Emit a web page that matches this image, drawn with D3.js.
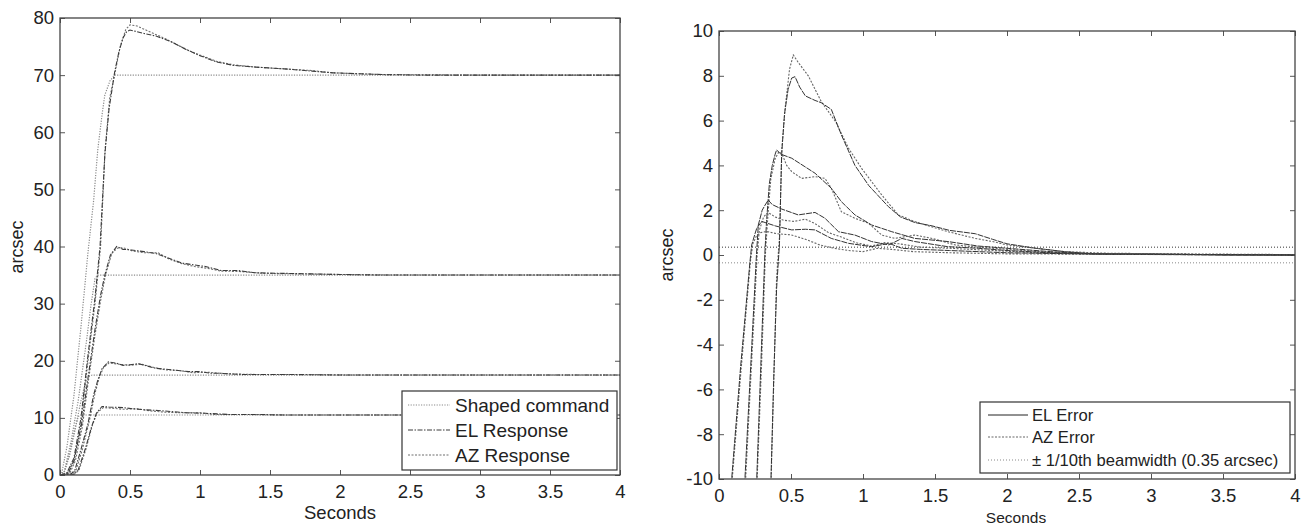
<!DOCTYPE html>
<head>
    <meta charset="utf-8">
    <title>Step responses</title>
    <script type="text/javascript" src="https://d3js.org/d3.v7.min.js"></script>
    <style>
        body { margin: 0; background: #fff; }
        svg { font-family: "Liberation Sans", Arial, sans-serif; }
        .tick text { fill: #222; font-size: 18.5px; }
        .tick line { stroke: #555; }
        .domain { display: none; }
    </style>
</head>

<body>
    <div id="container"></div>
    <script>
        //------------------------1. DATA------------------------//
        // left panel: [seconds, arcsec]
        var cmd70 = [[0, 0], [0.012, 0.3], [0.05, 5], [0.1, 14], [0.15, 26], [0.2, 39], [0.24, 48], [0.27, 57], [0.3, 63], [0.32, 66.5], [0.357, 69], [0.39, 70], [4, 70]];
        var el70 = [[0, 0], [0.05, 0.4], [0.1, 3], [0.15, 10], [0.2, 21], [0.25, 31], [0.286, 40], [0.32, 56], [0.35, 64], [0.39, 70.5], [0.42, 74], [0.45, 76.5], [0.476, 77.6], [0.5, 77.9], [0.6, 77.3], [0.69, 76.8], [0.79, 75.9], [0.9, 74.5], [1.0, 73.4], [1.12, 72.3], [1.24, 71.7], [1.4, 71.4], [1.6, 71.1], [1.8, 70.7], [1.95, 70.4], [2.3, 70.1], [2.6, 70], [4, 70]];
        var az70 = [[0, 0], [0.05, 0.3], [0.1, 2.5], [0.15, 9], [0.2, 20], [0.25, 30], [0.29, 40], [0.322, 57], [0.355, 66], [0.39, 70], [0.43, 75], [0.47, 78], [0.5, 78.8], [0.55, 78.6], [0.64, 77.6], [0.75, 76.4], [0.83, 75.4], [0.92, 74.3], [1.0, 73.5], [1.12, 72.4], [1.24, 71.8], [1.4, 71.4], [1.6, 71.1], [1.8, 70.8], [1.95, 70.4], [2.3, 70.1], [3, 70], [4, 70]];

        var cmd35 = [[0, 0], [0.03, 0.5], [0.08, 6], [0.13, 13], [0.19, 23.6], [0.22, 29.5], [0.25, 34.4], [0.27, 35], [4, 35]];
        var el35 = [[0, 0], [0.06, 0.3], [0.1, 2.5], [0.155, 9], [0.2, 17], [0.25, 25.5], [0.29, 31.5], [0.32, 35], [0.36, 38.5], [0.405, 40], [0.45, 39.5], [0.51, 39.4], [0.6, 39.1], [0.68, 38.8], [0.75, 38.2], [0.87, 37.1], [0.95, 36.8], [1.04, 36.5], [1.15, 35.8], [1.27, 35.8], [1.39, 35.4], [1.6, 35.3], [1.8, 35.2], [2.0, 35.1], [2.3, 35], [4, 35]];
        var az35 = [[0, 0], [0.07, 0.3], [0.11, 2.5], [0.16, 8.5], [0.2, 16], [0.25, 24.5], [0.29, 30.5], [0.325, 35], [0.37, 38.8], [0.41, 39.7], [0.45, 39.8], [0.52, 39.2], [0.6, 38.9], [0.7, 38.9], [0.78, 37.8], [0.87, 37.0], [0.96, 36.5], [1.05, 36.2], [1.15, 35.7], [1.3, 35.6], [1.45, 35.3], [1.7, 35.2], [2.0, 35.1], [2.4, 35], [4, 35]];

        var cmd17 = [[0, 0], [0.03, 0.5], [0.07, 3.5], [0.1, 7], [0.15, 13], [0.18, 16], [0.21, 17.3], [0.23, 17.5], [4, 17.5]];
        var el17 = [[0, 0], [0.08, 0.2], [0.107, 0.9], [0.15, 4.5], [0.2, 9], [0.24, 14], [0.27, 16.6], [0.3, 18.6], [0.345, 19.8], [0.4, 19.6], [0.45, 19.2], [0.5, 19.3], [0.56, 19.5], [0.62, 19.1], [0.68, 18.7], [0.8, 18.4], [0.92, 18.1], [1.0, 18.1], [1.08, 17.8], [1.15, 17.8], [1.3, 17.6], [1.6, 17.6], [2, 17.5], [4, 17.5]];
        var az17 = [[0, 0], [0.09, 0.2], [0.115, 0.9], [0.16, 4.5], [0.21, 9.5], [0.25, 14.3], [0.28, 17], [0.31, 18.8], [0.35, 19.6], [0.42, 19.4], [0.5, 19.2], [0.58, 19.4], [0.66, 18.9], [0.75, 18.4], [0.85, 18.3], [0.95, 17.9], [1.05, 18.0], [1.2, 17.7], [1.4, 17.6], [1.7, 17.6], [2.1, 17.5], [4, 17.5]];

        var cmd10 = [[0, 0], [0.03, 0.5], [0.06, 3], [0.1, 7.5], [0.13, 10.2], [0.145, 10.5], [4, 10.5]];
        var el10 = [[0, 0], [0.09, 0], [0.13, 0.9], [0.18, 4.5], [0.226, 8.5], [0.26, 10.8], [0.3, 12], [0.35, 11.9], [0.45, 11.8], [0.52, 11.6], [0.61, 11.4], [0.7, 11.3], [0.8, 11.1], [0.9, 10.9], [1.04, 10.8], [1.2, 10.6], [1.4, 10.6], [1.6, 10.5], [4, 10.5]];
        var az10 = [[0, 0], [0.095, 0], [0.135, 0.8], [0.185, 4.5], [0.23, 8.6], [0.265, 10.9], [0.31, 11.8], [0.37, 11.7], [0.45, 11.5], [0.55, 11.6], [0.65, 11.2], [0.75, 11.0], [0.85, 10.9], [1.0, 10.9], [1.1, 10.6], [1.3, 10.6], [1.6, 10.5], [4, 10.5]];

        // right panel errors: [seconds, arcsec]
        var elErr70 = [[0.33, -14], [0.361, -10], [0.38, -5.5], [0.4, -1.5], [0.42, 0.5], [0.435, 4.5], [0.455, 6.3], [0.48, 7.4], [0.505, 7.9], [0.528, 7.96], [0.56, 7.5], [0.6, 7.1], [0.667, 6.9], [0.71, 6.8], [0.78, 6.5], [0.85, 5.36], [0.944, 4.0], [1.04, 3.1], [1.176, 2.16], [1.26, 1.7], [1.36, 1.45], [1.48, 1.3], [1.6, 1.1], [1.78, 0.95], [1.9, 0.7], [2.0, 0.5], [2.2, 0.3], [2.4, 0.15], [2.6, 0.05], [3.0, 0.05], [3.5, 0], [4.0, 0]];
        var azErr70 = [[0.33, -14], [0.362, -10], [0.382, -5.3], [0.4, -1.0], [0.42, 0.8], [0.437, 4.8], [0.46, 6.6], [0.49, 8.3], [0.516, 8.93], [0.55, 8.6], [0.62, 8.0], [0.71, 6.85], [0.81, 5.95], [0.9, 4.76], [0.99, 3.87], [1.13, 2.68], [1.245, 1.79], [1.36, 1.49], [1.59, 1.04], [1.78, 0.74], [1.9, 0.6], [2.0, 0.45], [2.2, 0.3], [2.4, 0.15], [2.7, 0.08], [3.2, 0.05], [4.0, 0.02]];
        var elErr35 = [[0.24, -14], [0.262, -10], [0.29, -5], [0.318, 0], [0.33, 1.5], [0.35, 3.2], [0.37, 4.0], [0.39, 4.5], [0.4, 4.69], [0.43, 4.5], [0.505, 4.32], [0.597, 3.94], [0.667, 3.65], [0.78, 2.98], [0.85, 2.38], [0.944, 1.79], [1.06, 1.34], [1.2, 1.04], [1.36, 0.74], [1.59, 0.6], [1.8, 0.4], [2.0, 0.3], [2.3, 0.15], [2.6, 0.05], [3, 0.02], [4, 0]];
        var azErr35 = [[0.24, -14], [0.265, -10], [0.295, -5], [0.322, 0], [0.34, 1.8], [0.36, 3.4], [0.39, 4.3], [0.415, 4.6], [0.435, 4.55], [0.47, 4.0], [0.505, 3.72], [0.574, 3.42], [0.667, 3.5], [0.736, 3.42], [0.78, 2.98], [0.85, 1.93], [0.944, 1.64], [1.04, 1.41], [1.13, 0.89], [1.22, 0.74], [1.36, 0.89], [1.48, 0.74], [1.64, 0.45], [1.8, 0.35], [2.0, 0.25], [2.3, 0.12], [2.7, 0.05], [4, 0]];
        var elErr17 = [[0.16, -14], [0.18, -10], [0.22, -5], [0.26, 0], [0.273, 1.34], [0.3, 2.0], [0.32, 2.23], [0.342, 2.45], [0.37, 2.25], [0.436, 2.05], [0.55, 1.79], [0.667, 1.9], [0.736, 1.64], [0.83, 1.04], [0.944, 0.89], [1.06, 0.6], [1.18, 0.45], [1.27, 0.74], [1.36, 0.6], [1.59, 0.37], [1.8, 0.3], [2.0, 0.2], [2.3, 0.1], [2.7, 0.03], [4, 0]];
        var azErr17 = [[0.16, -14], [0.185, -10], [0.225, -5], [0.265, 0], [0.28, 1.1], [0.31, 1.7], [0.34, 1.9], [0.39, 1.7], [0.45, 1.55], [0.52, 1.5], [0.6, 1.6], [0.667, 1.4], [0.76, 1.0], [0.85, 0.8], [0.95, 0.55], [1.06, 0.4], [1.15, 0.55], [1.25, 0.5], [1.4, 0.35], [1.6, 0.3], [1.9, 0.2], [2.2, 0.1], [2.6, 0.05], [4, 0]];
        var elErr10 = [[0.06, -14], [0.088, -10], [0.15, -5], [0.215, -0.3], [0.227, 0.45], [0.25, 0.95], [0.262, 1.19], [0.296, 1.5], [0.32, 1.45], [0.39, 1.3], [0.505, 1.12], [0.6, 1.15], [0.667, 1.12], [0.78, 0.74], [0.9, 0.52], [1.06, 0.37], [1.18, 0.52], [1.27, 0.3], [1.4, 0.25], [1.6, 0.2], [2, 0.1], [2.5, 0.05], [4, 0]];
        var azErr10 = [[0.06, -14], [0.092, -10], [0.155, -5], [0.218, -0.3], [0.235, 0.5], [0.26, 0.85], [0.29, 1.0], [0.33, 1.05], [0.4, 0.95], [0.5, 0.9], [0.6, 0.7], [0.7, 0.45], [0.8, 0.3], [0.9, 0.2], [1.0, 0.15], [1.1, 0.3], [1.2, 0.25], [1.35, 0.15], [1.6, 0.1], [2, 0.05], [4, 0]];

        var beamTol = 0.35;
        var xTicks = [0, 0.5, 1, 1.5, 2, 2.5, 3, 3.5, 4];
        var yTicksL = [0, 10, 20, 30, 40, 50, 60, 70, 80];
        var yTicksR = [-10, -8, -6, -4, -2, 0, 2, 4, 6, 8, 10];
        var legendL = ["Shaped command", "EL Response", "AZ Response"];
        var legendR = ["EL Error", "AZ Error", "\u00b1 1/10th beamwidth (0.35 arcsec)"];

        //------------------------2. STYLES------------------------//
        var sty = {
            cmd: { stroke: "#8a8a8a", dash: "1.2,1.4", w: 1.2 },
            el: { stroke: "#3c3c3c", dash: "5,1.5,1.5,1.5", w: 1.1 },
            az: { stroke: "#6e6e6e", dash: "2,1.5", w: 1.1 },
            elErr: { stroke: "#333", dash: "6,1", w: 1.0 },
            azErr: { stroke: "#666", dash: "2,1.5", w: 1.1 },
            tolHi: { stroke: "#333", dash: "1,2", w: 1.0 },
            tolLo: { stroke: "#888", dash: "1,2", w: 1.0 }
        };

        var svg = d3.select("#container").append("svg")
            .attr("width", 1312).attr("height", 525);

        //------------------------3. PANELS------------------------//
        function panel(xr, yd, yr, yTicks, id) {
            var x = d3.scaleLinear().domain([0, 4]).range(xr);
            var y = d3.scaleLinear().domain(yd).range(yr);
            var g = svg.append("g");

            svg.append("clipPath").attr("id", id)
                .append("rect")
                .attr("x", xr[0]).attr("y", yr[1])
                .attr("width", xr[1] - xr[0]).attr("height", yr[0] - yr[1]);

            var fmt = function (d) { return String(d); };
            g.append("g").attr("transform", "translate(0," + yr[0] + ")")
                .call(d3.axisBottom(x).tickValues(xTicks).tickFormat(fmt).tickSizeInner(-5).tickSizeOuter(0).tickPadding(10));
            g.append("g").attr("transform", "translate(0," + yr[1] + ")")
                .call(d3.axisTop(x).tickValues(xTicks).tickFormat("").tickSizeInner(-5).tickSizeOuter(0));
            g.append("g").attr("transform", "translate(" + xr[0] + ",0)")
                .call(d3.axisLeft(y).tickValues(yTicks).tickFormat(fmt).tickSizeInner(-5).tickSizeOuter(0).tickPadding(6));
            g.append("g").attr("transform", "translate(" + xr[1] + ",0)")
                .call(d3.axisRight(y).tickValues(yTicks).tickFormat("").tickSizeInner(-5).tickSizeOuter(0));

            var plot = g.append("g").attr("clip-path", "url(#" + id + ")");
            return { x: x, y: y, g: g, plot: plot, xr: xr, yr: yr };
        }

        function drawLine(p, data, s) {
            var line = d3.line()
                .x(function (d) { return p.x(d[0]); })
                .y(function (d) { return p.y(d[1]); });
            p.plot.append("path")
                .datum(data)
                .attr("d", line)
                .attr("fill", "none")
                .attr("stroke", s.stroke)
                .attr("stroke-width", s.w)
                .attr("stroke-dasharray", s.dash);
        }

        function frame(p) {
            p.g.append("rect")
                .attr("x", p.xr[0]).attr("y", p.yr[1])
                .attr("width", p.xr[1] - p.xr[0]).attr("height", p.yr[0] - p.yr[1])
                .attr("fill", "none").attr("stroke", "#444").attr("stroke-width", 1.3);
        }

        function legend(p, x0, y0, w, h, names, styles, rows, fs, sx0, sx1, tx) {
            var lg = p.g.append("g");
            lg.append("rect").attr("x", x0).attr("y", y0).attr("width", w).attr("height", h)
                .attr("fill", "#fff").attr("stroke", "#333").attr("stroke-width", 1.2);
            names.forEach(function (n, i) {
                var s = styles[i];
                lg.append("line").attr("x1", sx0).attr("x2", sx1).attr("y1", rows[i]).attr("y2", rows[i])
                    .attr("stroke", s.stroke).attr("stroke-width", s.w).attr("stroke-dasharray", s.dash);
                lg.append("text").attr("x", tx).attr("y", rows[i]).attr("dy", "0.35em")
                    .attr("font-size", fs).attr("fill", "#222").text(n);
            });
        }

        //------------------------4. LEFT------------------------//
        var pL = panel([60, 620], [0, 80], [475, 18], yTicksL, "clipL");
        [[cmd70, el70, az70], [cmd35, el35, az35], [cmd17, el17, az17], [cmd10, el10, az10]].forEach(function (set) {
            drawLine(pL, set[0], sty.cmd);
            drawLine(pL, set[2], sty.az);
            drawLine(pL, set[1], sty.el);
        });
        frame(pL);
        legend(pL, 402, 391, 215, 79, legendL, [sty.cmd, sty.el, sty.az], [405, 430, 455], 19, 408, 450, 455);

        svg.append("text").attr("x", 340).attr("y", 519).attr("text-anchor", "middle")
            .attr("font-size", 18.5).attr("fill", "#222").text("Seconds");
        svg.append("text").attr("transform", "translate(23,247) rotate(-90)").attr("text-anchor", "middle")
            .attr("font-size", 18).attr("fill", "#222").text("arcsec");

        //------------------------5. RIGHT------------------------//
        var pR = panel([719, 1295], [-10, 10], [479, 31], yTicksR, "clipR");
        drawLine(pR, [[0, beamTol], [4, beamTol]], sty.tolHi);
        drawLine(pR, [[0, -beamTol], [4, -beamTol]], sty.tolLo);
        [[elErr70, azErr70], [elErr35, azErr35], [elErr17, azErr17], [elErr10, azErr10]].forEach(function (set) {
            drawLine(pR, set[1], sty.azErr);
            drawLine(pR, set[0], sty.elErr);
        });
        frame(pR);
        legend(pR, 980, 402, 310, 71, legendR, [{ stroke: "#222", dash: null, w: 1 }, sty.azErr, sty.tolLo], [415, 437, 460], 16.6, 988, 1028, 1032);

        svg.append("text").attr("x", 1016).attr("y", 523).attr("text-anchor", "middle")
            .attr("font-size", 15.5).attr("fill", "#222").text("Seconds");
        svg.append("text").attr("transform", "translate(673,255) rotate(-90)").attr("text-anchor", "middle")
            .attr("font-size", 18).attr("fill", "#222").text("arcsec");
    </script>
</body>
